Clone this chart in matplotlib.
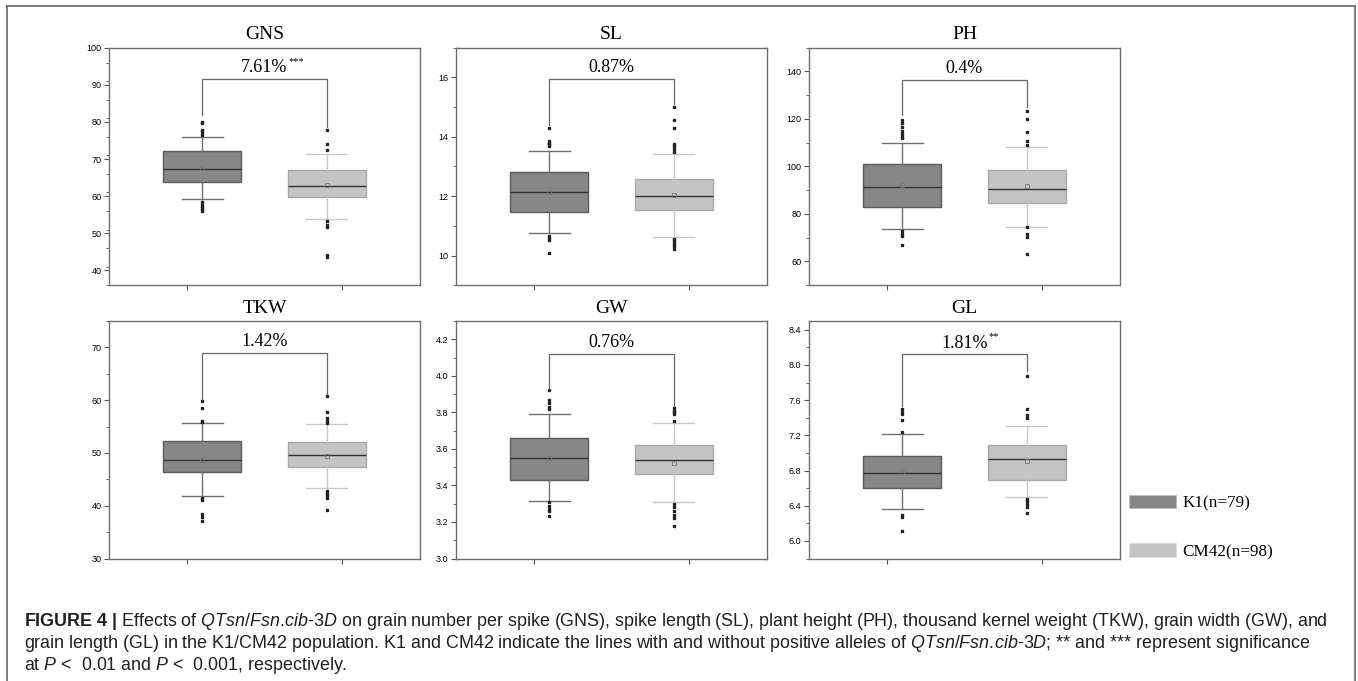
import matplotlib
matplotlib.use('Agg')
import matplotlib.pyplot as plt
from matplotlib.lines import Line2D
from matplotlib.patches import Patch

# traits and percentage differences between the two groups
traits = ['GNS', 'SL', 'PH', 'TKW', 'GW', 'GL']
diff_labels = ['7.61%', '0.87%', '0.4%', '1.42%', '0.76%', '1.81%']
signif = ['***', '', '', '', '', '**']

# K1 (n=79) box statistics
k1_q1 = [63.8, 11.47, 83.0, 46.3, 3.432, 6.599]
k1_med = [67.4, 12.14, 91.4, 48.7, 3.552, 6.770]
k1_q3 = [72.1, 12.81, 101.2, 52.3, 3.662, 6.963]
k1_mean = [67.7, 12.14, 92.0, 48.7, 3.552, 6.789]
k1_lo = [59.1, 10.75, 73.8, 41.9, 3.315, 6.36]
k1_hi = [75.9, 13.51, 109.9, 55.6, 3.789, 7.21]
k1_out = [
    [80.0, 79.7, 77.7, 77.2, 76.5, 58.3, 57.6, 57.0, 56.4, 55.9],
    [14.28, 13.86, 13.80, 13.74, 13.68, 10.67, 10.60, 10.52, 10.08],
    [119.5, 118.2, 116.5, 114.8, 113.8, 112.5, 111.8, 72.9, 71.7, 70.6, 66.9],
    [59.8, 58.6, 56.1, 55.8, 41.5, 41.1, 38.4, 37.9, 37.1],
    [3.92, 3.87, 3.85, 3.83, 3.82, 3.31, 3.29, 3.27, 3.26, 3.23],
    [7.50, 7.47, 7.44, 7.37, 7.24, 6.30, 6.27, 6.11],
]

# CM42 (n=98) box statistics
cm_q1 = [59.7, 11.54, 84.5, 47.3, 3.461, 6.690]
cm_med = [62.6, 11.99, 90.4, 49.7, 3.541, 6.929]
cm_q3 = [67.0, 12.59, 98.7, 52.0, 3.620, 7.092]
cm_mean = [62.9, 12.05, 91.7, 49.4, 3.525, 6.914]
cm_lo = [53.9, 10.64, 74.7, 43.4, 3.309, 6.497]
cm_hi = [71.4, 13.41, 108.2, 55.4, 3.744, 7.312]
cm_out = [
    [77.7, 74.0, 72.3, 53.2, 52.3, 51.6, 44.2, 43.5],
    [15.0, 14.56, 14.31, 13.77, 13.70, 13.60, 13.49, 10.56, 10.48, 10.40, 10.31, 10.22],
    [123.2, 120.1, 114.5, 110.6, 108.9, 74.3, 71.4, 70.1, 63.1],
    [60.8, 57.8, 56.6, 56.0, 55.6, 42.8, 42.3, 41.9, 41.4, 39.1],
    [3.826, 3.81, 3.80, 3.79, 3.753, 3.30, 3.28, 3.26, 3.24, 3.22, 3.18],
    [7.88, 7.50, 7.43, 7.40, 6.48, 6.45, 6.42, 6.39, 6.32],
]

# bracket level and the lower ends of its two legs
bracket_y = [91.5, 15.94, 136.6, 68.9, 4.12, 8.12]
bracket_left = [81.8, 14.4, 121.5, 60.2, 3.93, 7.53]
bracket_right = [78.6, 15.1, 125.0, 61.1, 3.835, 7.93]

ylims = [(36, 100), (9, 17), (50, 150), (30, 75), (3.0, 4.3), (5.8, 8.5)]
yticks = [
    [40, 50, 60, 70, 80, 90, 100],
    [10, 12, 14, 16],
    [60, 80, 100, 120, 140],
    [30, 40, 50, 60, 70],
    [3.0, 3.2, 3.4, 3.6, 3.8, 4.0, 4.2],
    [6.0, 6.4, 6.8, 7.2, 7.6, 8.0, 8.4],
]
ytick_fmt = ['%d', '%d', '%d', '%d', '%.1f', '%.1f']

DARK = '#878787'
LIGHT = '#c4c4c4'

plt.rcParams['mathtext.fontset'] = 'custom'
plt.rcParams['mathtext.rm'] = 'Liberation Sans'
plt.rcParams['mathtext.it'] = 'Liberation Sans:italic'
plt.rcParams['mathtext.bf'] = 'Liberation Sans:bold'

W, H = 1358, 681
fig = plt.figure(figsize=(W / 100, H / 100), dpi=100)

col_left = [109, 456, 809]
row_top = [47.7, 321]
ax_w, ax_h = 311, 237.5

for i, trait in enumerate(traits):
    r, c = divmod(i, 3)
    ax = fig.add_axes([col_left[c] / W, 1 - (row_top[r] + ax_h) / H,
                       ax_w / W, ax_h / H])
    stats = [
        dict(q1=k1_q1[i], med=k1_med[i], q3=k1_q3[i], mean=k1_mean[i],
             whislo=k1_lo[i], whishi=k1_hi[i], fliers=k1_out[i]),
        dict(q1=cm_q1[i], med=cm_med[i], q3=cm_q3[i], mean=cm_mean[i],
             whislo=cm_lo[i], whishi=cm_hi[i], fliers=cm_out[i]),
    ]
    bp = ax.bxp(stats, positions=[1.1, 1.9], widths=0.5, capwidths=0.26,
                patch_artist=True, showmeans=True,
                medianprops=dict(color='#333333', lw=1.0),
                meanprops=dict(marker='s', markersize=2.8, markerfacecolor='none',
                               markeredgecolor='#777777', markeredgewidth=0.6),
                flierprops=dict(marker='s', markersize=1.6, markerfacecolor='#222222',
                                markeredgecolor='#222222', linestyle='none'))
    edges = ['#5a5a5a', '#a9a9a9']
    wcols = ['#707070', '#c9c9c9']
    for j, box in enumerate(bp['boxes']):
        box.set_facecolor([DARK, LIGHT][j])
        box.set_edgecolor(edges[j])
        box.set_linewidth(1.0)
    for j, ln in enumerate(bp['whiskers']):
        ln.set_color(wcols[j // 2])
        ln.set_linewidth(1.0)
    for j, ln in enumerate(bp['caps']):
        ln.set_color(wcols[j // 2])
        ln.set_linewidth(1.0)

    # bracket with difference label
    by = bracket_y[i]
    ax.plot([1.1, 1.1, 1.9, 1.9], [bracket_left[i], by, by, bracket_right[i]],
            color='#666666', lw=0.9)
    txt = ax.annotate(diff_labels[i], xy=(1.5, by), xytext=(0, 2),
                      textcoords='offset points', ha='center', va='bottom',
                      fontsize=13, family='Liberation Serif')
    if signif[i]:
        ax.annotate(signif[i], xy=(1.0, 0.62), xycoords=txt, xytext=(0.5, 0),
                    textcoords='offset points', ha='left', va='bottom',
                    fontsize=7.5, family='Liberation Serif')

    ax.set_xlim(0.5, 2.5)
    ax.set_ylim(*ylims[i])
    ax.set_xticks([1, 2])
    ax.set_xticklabels([])
    ax.set_yticks(yticks[i])
    ax.set_yticklabels([ytick_fmt[i] % v for v in yticks[i]],
                       family='Liberation Sans', fontsize=6.5)
    step = yticks[i][1] - yticks[i][0]
    minors = []
    v = ylims[i][0]
    while v <= ylims[i][1] + 1e-9:
        minors.append(v)
        v += step / 2
    ax.set_yticks(minors, minor=True)
    ax.tick_params(axis='both', which='major', direction='out', length=3.5,
                   width=0.8, color='#555555', pad=2)
    ax.tick_params(axis='y', which='minor', direction='out', length=2,
                   width=0.6, color='#555555')
    ax.tick_params(axis='x', which='minor', length=0)
    for sp in ax.spines.values():
        sp.set_color('#6e6e6e')
        sp.set_linewidth(1.0)
    ax.set_title(trait, family='Liberation Serif', fontsize=14, pad=6)

# legend
handles = [Patch(facecolor=DARK, edgecolor='#bbbbbb', lw=0.5),
           Patch(facecolor=LIGHT, edgecolor='#dddddd', lw=0.5)]
fig.legend(handles, ['K1(n=79)', 'CM42(n=98)'], loc='upper left',
           bbox_to_anchor=(1120 / W, 1 - 486 / H), frameon=False,
           prop=dict(family='Liberation Serif', size=12.3), borderpad=0,
           handlelength=2.75, handleheight=0.8, handletextpad=0.4,
           labelspacing=1.9)

# outer frame
fc = '#666666'
fig.add_artist(Line2D([7 / W, 1355 / W], [1 - 6 / H, 1 - 6 / H], color=fc, lw=1.2,
                      transform=fig.transFigure))
fig.add_artist(Line2D([7 / W, 7 / W], [1 - 6 / H, 0], color=fc, lw=1.2,
                      transform=fig.transFigure))
fig.add_artist(Line2D([1355 / W, 1355 / W], [1 - 6 / H, 0], color=fc, lw=1.2,
                      transform=fig.transFigure))

# caption
qtl = r'$\mathit{QTsn/Fsn.\!cib}$-$\mathit{3D}$'
caption = [
    r'$\mathbf{FIGURE\ 4\ |}$ Effects of ' + qtl + ' on grain '
    'number per spike (GNS), spike length (SL), plant height (PH), thousand kernel '
    'weight (TKW), grain width (GW), and',
    'grain length (GL) in the K1/CM42 population. K1 and CM42 indicate the lines with '
    'and without positive alleles of ' + qtl + '; ** and *** '
    'represent significance',
    r'at $\mathit{P}$ <  0.01 and $\mathit{P}$ <  0.001, respectively.',
]
for k, line in enumerate(caption):
    fig.text(24 / W, 1 - (622 + 22 * k) / H, line, va='center', ha='left',
             family='Liberation Sans', fontsize=12.9, color='#231f20',
             math_fontfamily='custom')

fig.savefig('out.png', dpi=100)
